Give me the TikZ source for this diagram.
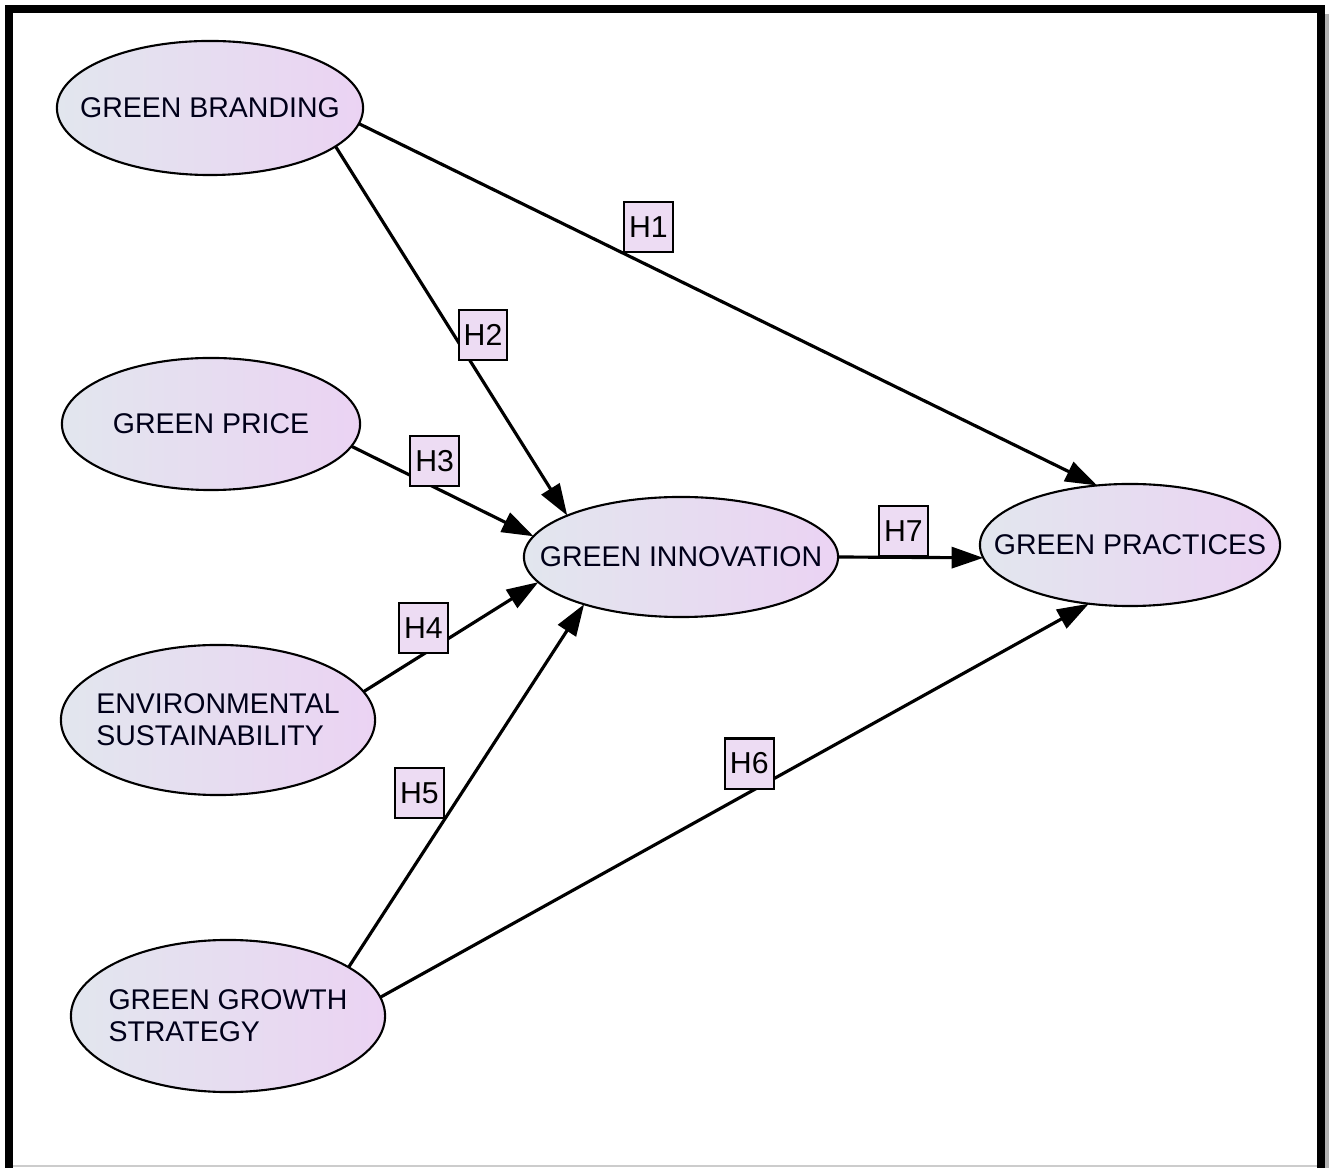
\documentclass[tikz,border=0pt]{standalone}
\usepackage{fontspec}
\setmainfont{Liberation Sans}
\usetikzlibrary{shapes.geometric,arrows.meta}

\definecolor{cleft}{HTML}{E2E6EE}
\definecolor{cright}{HTML}{EBD3F3}
\definecolor{hfill}{HTML}{EDDCF3}

\tikzset{
	construct/.style={ellipse, draw, line width=0.6pt, left color=cleft, right color=cright,
		inner xsep=-0.6cm, inner ysep=0pt, outer sep=0pt, align=left,
		font=\fontsize{8.1}{9.1}\selectfont, text=black!90!blue},
	hyp/.style={->, line width=0.9pt, >={Triangle[length=9pt,width=6pt]}},
	hbox/.style={draw, line width=0.6pt, fill=hfill, inner xsep=1.4pt, inner ysep=0pt,
		minimum height=0.5cm, font=\fontsize{8.6}{9}\selectfont},
}

\begin{document}
\begin{tikzpicture}[x=0.01cm,y=-0.01cm]
	\useasboundingbox (0,0) rectangle (1331,1168);

	% frame
	\draw[line width=2.3pt] (9,1168) -- (9,9) -- (1321,9) -- (1321,1168);
	\draw[gray!60, line width=1.4pt] (1327,14) -- (1327,1168);
	\draw[gray!40, line width=0.6pt] (13,1166) -- (1317,1166);

	\node 	(gb)	at	(210,108)	[construct, minimum width=3.06cm, minimum height=1.34cm]{GREEN BRANDING};
	\node 	(gpr)	at	(211,424)	[construct, minimum width=2.98cm, minimum height=1.32cm]{GREEN PRICE};
	\node 	(es)	at	(218,720)	[construct, minimum width=3.14cm, minimum height=1.5cm]{ENVIRONMENTAL\\SUSTAINABILITY};
	\node 	(ggs)	at	(228,1016)	[construct, minimum width=3.14cm, minimum height=1.52cm]{GREEN GROWTH\\STRATEGY};

	\node 	(gi)	at	(681,557)	[construct, minimum width=3.14cm, minimum height=1.2cm]{GREEN INNOVATION};
	\node 	(gp)	at	(1130,545)	[construct, minimum width=3.0cm, minimum height=1.22cm]{GREEN PRACTICES};

	\draw[hyp] (gb.-6) 	to 	node[hbox, pos=0.358, anchor=south west]{H1} 	(gp.119);
	\draw[hyp] (gb.-17) 	to 	node[hbox, pos=0.51, anchor=west, xshift=0.04cm]{H2} 	(gi.160);
	\draw[hyp] (gpr.-9) 	to 	node[hbox, pos=0.457, anchor=south]{H3} 	(gi.172);
	\draw[hyp] (es.11) 	to 	node[hbox, pos=0.343, anchor=south]{H4} 	(gi.190);
	\draw[hyp] (ggs.22) 	to 	node[hbox, pos=0.408, anchor=south east]{H5} 	(gi.206);
	\draw[hyp] (ggs.7) 	to 	node[hbox, pos=0.548, anchor=south east, xshift=0.06cm, yshift=-0.08cm]{H6} 	(gp.235);
	\draw[hyp] (gi.east) 	to 	node[hbox, pos=0.45, anchor=south]{H7} 	(gp.185);

\end{tikzpicture}
\end{document}
